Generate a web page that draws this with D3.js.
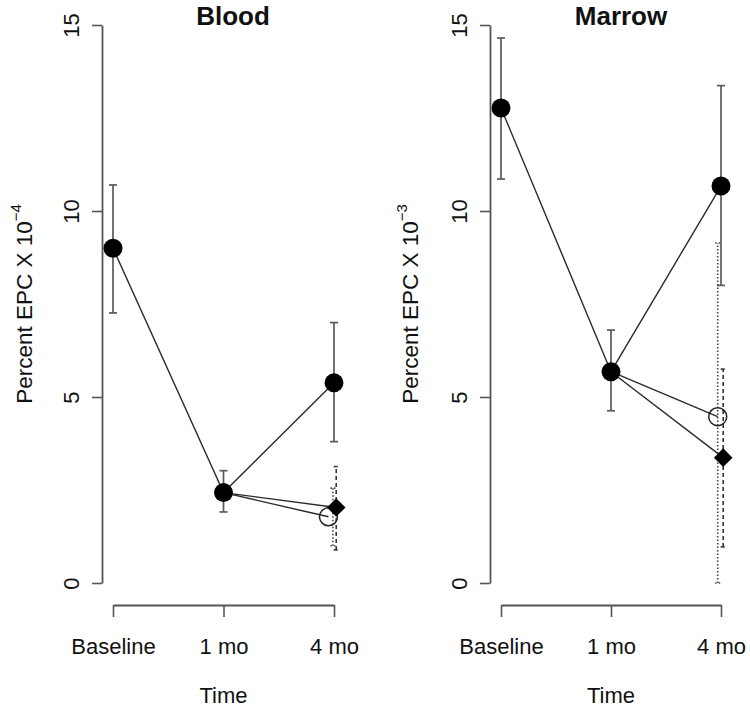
<!DOCTYPE html>
<html>
<head>
<meta charset="utf-8">
<script src="https://cdn.jsdelivr.net/npm/d3@7"></script>
<style>
  html, body { margin: 0; padding: 0; background: #fff; }
  svg { display: block; }
  text { font-family: "Liberation Sans", Arial, Helvetica, sans-serif; fill: #111; }
</style>
</head>
<body>
<svg id="chart" width="750" height="711"></svg>
<script>
// ---------- data ----------
const categories = ["Baseline", "1 mo", "4 mo"];
const yTicks = [0, 5, 10, 15];

// Blood (Percent EPC x 10^-4)
const bloodMean = [9.0, 2.43, 5.38];
const bloodHi   = [10.7, 3.02, 7.0];
const bloodLo   = [7.26, 1.91, 3.80];
const bloodOpen4    = { mean: 1.78, hi: 2.55, lo: 1.0 };
const bloodDiamond4 = { mean: 2.03, hi: 3.13, lo: 0.89 };

// Marrow (Percent EPC x 10^-3)
const marrowMean = [12.77, 5.68, 10.67];
const marrowHi   = [14.65, 6.8, 13.37];
const marrowLo   = [10.86, 4.63, 8.0];
const marrowOpen4    = { mean: 4.47, hi: 9.14, lo: 0.0 };
const marrowDiamond4 = { mean: 3.37, hi: 5.75, lo: 0.97 };

const panels = [
  { title: "Blood", exp: "\u22124", mean: bloodMean, hi: bloodHi, lo: bloodLo,
    open: bloodOpen4, diamond: bloodDiamond4,
    axisX: 102, xRange: [113, 334], titleX: 233, ylabX: 32, openOff: -0.05, openBarOff: -0.01 },
  { title: "Marrow", exp: "\u22123", mean: marrowMean, hi: marrowHi, lo: marrowLo,
    open: marrowOpen4, diamond: marrowDiamond4,
    axisX: 490, xRange: [501, 721], titleX: 621, ylabX: 418, openOff: -0.03, openBarOff: -0.03 }
];

// ---------- drawing ----------
const svg = d3.select("#chart");
const y = d3.scaleLinear().domain([0, 15]).range([583, 25]);
const xAxisY = 605;
const axisColor = "#555";
const barColor = "#5a5a5a";
const lineColor = "#2a2a2a";
const diamondOff = 0.02;
const capW = 4;

panels.forEach(p => {
  const x = d3.scaleLinear().domain([1, 3]).range(p.xRange);
  const g = svg.append("g");

  // y axis
  const ya = g.append("g").attr("transform", `translate(${p.axisX},0)`)
    .call(d3.axisLeft(y).tickValues(yTicks).tickSize(10).tickSizeOuter(0).tickFormat(d3.format("d")));
  ya.select(".domain").attr("stroke", axisColor).attr("stroke-width", 1.8);
  ya.selectAll(".tick line").attr("stroke", axisColor).attr("stroke-width", 1.6);
  ya.selectAll(".tick text")
    .attr("transform", "rotate(-90)")
    .attr("x", 0).attr("y", -23).attr("dy", 0)
    .attr("text-anchor", "middle")
    .style("font-size", "22px")
    .style("font-family", "'Liberation Sans', Arial, sans-serif")
    .attr("fill", "#222");

  // x axis
  const xa = g.append("g").attr("transform", `translate(0,${xAxisY})`)
    .call(d3.axisBottom(x).tickValues([1, 2, 3]).tickSize(12).tickSizeOuter(0)
      .tickFormat((d, i) => categories[i]));
  xa.select(".domain").attr("stroke", axisColor).attr("stroke-width", 1.8);
  xa.selectAll(".tick line").attr("stroke", axisColor).attr("stroke-width", 1.6);
  xa.selectAll(".tick text")
    .attr("y", 49).attr("dy", 0)
    .style("font-size", "22px")
    .style("font-family", "'Liberation Sans', Arial, sans-serif")
    .attr("fill", "#222");

  // title
  g.append("text").attr("x", p.titleX).attr("y", 25).attr("text-anchor", "middle")
    .style("font-size", "26px").style("font-weight", "bold").text(p.title);

  // x label
  g.append("text").attr("x", x(2)).attr("y", 703).attr("text-anchor", "middle")
    .style("font-size", "22px").attr("fill", "#222").text("Time");

  // y label
  const yl = g.append("text")
    .attr("transform", `translate(${p.ylabX},${(y(0) + y(15)) / 2}) rotate(-90)`)
    .attr("text-anchor", "middle")
    .style("font-size", "22.5px").attr("fill", "#222");
  yl.append("tspan").text("Percent EPC X 10");
  yl.append("tspan").attr("dy", -11).style("font-size", "15px").text(p.exp);

  // error bars helper
  function errBar(xv, lo, hi, dash, cw, col, sw) {
    const xp = x(xv);
    const eg = g.append("g").attr("stroke", col).attr("stroke-width", sw)
      .attr("fill", "none");
    if (dash) eg.attr("stroke-dasharray", dash);
    eg.append("line").attr("x1", xp).attr("x2", xp).attr("y1", y(lo)).attr("y2", y(hi));
    eg.append("line").attr("x1", xp - cw).attr("x2", xp + cw).attr("y1", y(lo)).attr("y2", y(lo));
    eg.append("line").attr("x1", xp - cw).attr("x2", xp + cw).attr("y1", y(hi)).attr("y2", y(hi));
  }

  // error bars for filled series
  p.mean.forEach((m, i) => errBar(i + 1, p.lo[i], p.hi[i], null, capW, barColor, 1.7));
  // dotted for open circle, dashed for diamond
  errBar(3 + p.openBarOff, p.open.lo, p.open.hi, "1.5,2", 2.5, "#444", 1.6);
  errBar(3 + diamondOff, p.diamond.lo, p.diamond.hi, "4,3", 2.5, "#333", 1.6);

  // connecting lines
  const line = d3.line().x(d => x(d[0])).y(d => y(d[1]));
  const filledPts = p.mean.map((m, i) => [i + 1, m]);
  g.append("path").attr("d", line(filledPts)).attr("fill", "none")
    .attr("stroke", lineColor).attr("stroke-width", 1.4);
  g.append("path").attr("d", line([[2, p.mean[1]], [3 + p.openOff, p.open.mean]])).attr("fill", "none")
    .attr("stroke", lineColor).attr("stroke-width", 1.4);
  g.append("path").attr("d", line([[2, p.mean[1]], [3 + diamondOff, p.diamond.mean]])).attr("fill", "none")
    .attr("stroke", lineColor).attr("stroke-width", 1.4);

  // points
  g.selectAll(".filled").data(filledPts).join("circle")
    .attr("cx", d => x(d[0])).attr("cy", d => y(d[1])).attr("r", 9.5).attr("fill", "#000");
  g.append("circle").attr("cx", x(3 + p.openOff)).attr("cy", y(p.open.mean)).attr("r", 9)
    .attr("fill", "none").attr("stroke", "#222").attr("stroke-width", 1.5);
  g.append("path")
    .attr("d", d3.symbol().type(d3.symbolDiamond2).size(220)())
    .attr("transform", `translate(${x(3 + diamondOff)},${y(p.diamond.mean)})`)
    .attr("fill", "#000");
});
</script>
</body>
</html>
